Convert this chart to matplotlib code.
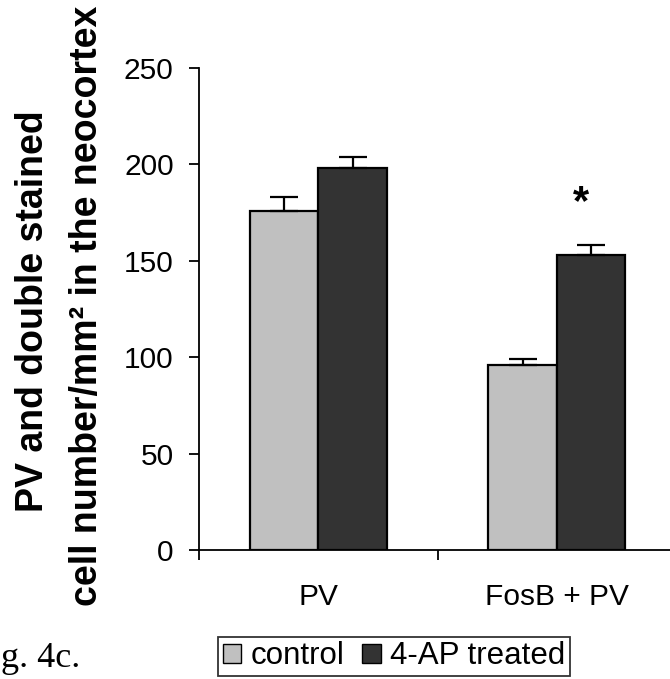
"""PV and FosB+PV cell density in the neocortex, control vs 4-AP treated."""

import matplotlib

matplotlib.use("Agg")
import matplotlib.pyplot as plt
import numpy as np
from matplotlib.patches import Patch

plt.rcParams["font.family"] = ["Liberation Sans", "DejaVu Sans"]

categories = ["PV", "FosB + PV"]
series_names = ["control", "4-AP treated"]
control_vals = [176, 96]
control_err = [7, 3]
treated_vals = [198, 153]
treated_err = [6, 5]
y_ticks = [0, 50, 100, 150, 200, 250]
significant = [False, True]  # star above treated bar

W, H = 670, 679
fig = plt.figure(figsize=(W / 100, H / 100), dpi=100)

# axes box in pixels: left 199, bottom 550, top 68, one category = 238.5 px
ax_left, ax_bottom, ax_top, cat_px = 199, 550, 68, 238.5
ax = fig.add_axes([ax_left / W, 1 - ax_bottom / H,
                   2 * cat_px / W, (ax_bottom - ax_top) / H])

x = np.arange(len(categories))
bar_w = 68.5 / cat_px
err_kw = dict(elinewidth=1.6, capthick=1.6, capsize=10, ecolor="black")

ax.bar(x - bar_w / 2, control_vals, bar_w, color="#c0c0c0", edgecolor="black",
       linewidth=1.6, yerr=[[0] * len(x), control_err], error_kw=err_kw, zorder=2)
treated_bars = ax.bar(x + bar_w / 2, treated_vals, bar_w, color="#333333",
                      edgecolor="black", linewidth=1.6,
                      yerr=[[0] * len(x), treated_err], error_kw=err_kw, zorder=2)

for bar, val, err, sig in zip(treated_bars, treated_vals, treated_err, significant):
    if sig:
        ax.annotate("*", xy=(bar.get_x() + bar.get_width() / 2, val + err),
                    xytext=(-10, 42), textcoords="offset pixels",
                    ha="center", va="center", fontsize=30, fontweight="bold")

ax.set_xlim(-0.5, len(categories) - 0.5)
ax.set_ylim(0, 250)
ax.set_yticks(y_ticks)
ax.set_xticks(x)
ax.set_xticklabels(categories)
ax.set_xticks(np.arange(len(categories) + 1) - 0.5, minor=True)

for side in ["top", "right"]:
    ax.spines[side].set_visible(False)
for side in ["left", "bottom"]:
    ax.spines[side].set_linewidth(1.3)

ax.tick_params(axis="y", direction="out", length=7.2, width=1.3, pad=11,
               labelsize=21.5)
ax.tick_params(axis="x", which="major", length=0, pad=24, labelsize=21.5)
ax.tick_params(axis="x", which="minor", direction="out", length=7.2, width=1.3)

# two-line bold y label
label_kw = dict(rotation=90, rotation_mode="anchor", ha="center", va="baseline",
                fontsize=27, fontweight="bold")
fig.text(43 / W, 1 - 311 / H, "PV and double stained", **label_kw)
fig.text(97 / W, 1 - 306 / H, "cell number/mm\u00b2 in the neocortex", **label_kw)

handles = [Patch(facecolor="#c0c0c0", edgecolor="black", linewidth=1.0),
           Patch(facecolor="#333333", edgecolor="black", linewidth=1.0)]
leg = fig.legend(handles, series_names, ncol=2, loc="center",
                 bbox_to_anchor=(394 / W, 1 - 656.5 / H), fontsize=22.5,
                 frameon=True, fancybox=False, shadow=False,
                 handlelength=0.6, handleheight=0.6, handletextpad=0.3,
                 columnspacing=0.55, borderpad=0.15, borderaxespad=0)
leg.get_frame().set_edgecolor("black")
leg.get_frame().set_linewidth(1.3)

# figure caption, cropped on the left in the source image
fig.text(1 / W, 1 - 667 / H, "g. 4c.", family="Liberation Serif",
         fontsize=26, ha="left", va="baseline")

fig.savefig("out.png", dpi=100)
